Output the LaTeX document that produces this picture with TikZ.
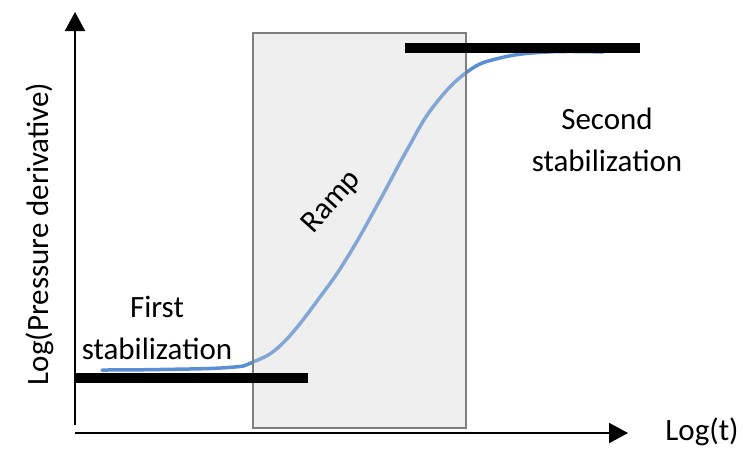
\documentclass[tikz,border=0pt]{standalone}
\usepackage{fontspec}
\setmainfont{Carlito}
\usetikzlibrary{arrows.meta}
\definecolor{curveblue}{HTML}{5A8FD6}
\definecolor{rampfill}{HTML}{D2D2D2}
\definecolor{rampedge}{HTML}{7F7F7F}
\tikzset{
  axisline/.style={line width=2.2pt,-{Triangle[length=19pt,width=20pt]}},
  levelbar/.style={line width=10pt},
  lbl/.style={font=\fontsize{31}{42}\selectfont,inner sep=0pt,align=center},
}
\begin{document}
\begin{tikzpicture}[x=1pt,y=-1pt]
\useasboundingbox (0,0) rectangle (743,448);
% axes
\coordinate (origin) at (75,425);
\coordinate (ytip) at (75,12);
\coordinate (xstart) at (75,433);
\coordinate (xtip) at (628,433);
\draw[axisline] (origin) -- (ytip);
\draw[axisline] (xstart) -- (xtip);
% derivative response
\draw[curveblue,line width=3.5pt,line cap=round]
  plot[smooth,tension=0.7] coordinates {(102,370) (160,369.5) (228,367.5) (253,362)
  (283,343) (323,293) (350,253) (380,200) (407,150) (433,107) (467,72)
  (500,58) (547,52) (603,52)};
% ramp region
\node[draw=rampedge,line width=1.6pt,fill=rampfill,fill opacity=0.35,
  minimum width=213pt,minimum height=395pt,inner sep=0pt] (ramp) at (359.5,230.5) {};
% stabilization levels
\coordinate (low0) at (75,378);
\coordinate (low1) at (308,378);
\coordinate (high0) at (405,48);
\coordinate (high1) at (640,48);
\draw[levelbar] (low0) -- (low1);
\draw[levelbar] (high0) -- (high1);
% labels
\node[lbl,rotate=90] (ylab) at (40,234) {Log(Pressure derivative)};
\node[lbl] (xlab) at (702,432) {Log(t)};
\node[lbl] (first) at (157,328) {First\\stabilization};
\node[lbl] (second) at (607,140) {Second\\stabilization};
\node[lbl,rotate=48] (ramplbl) at (332,202) {Ramp};
\end{tikzpicture}
\end{document}
